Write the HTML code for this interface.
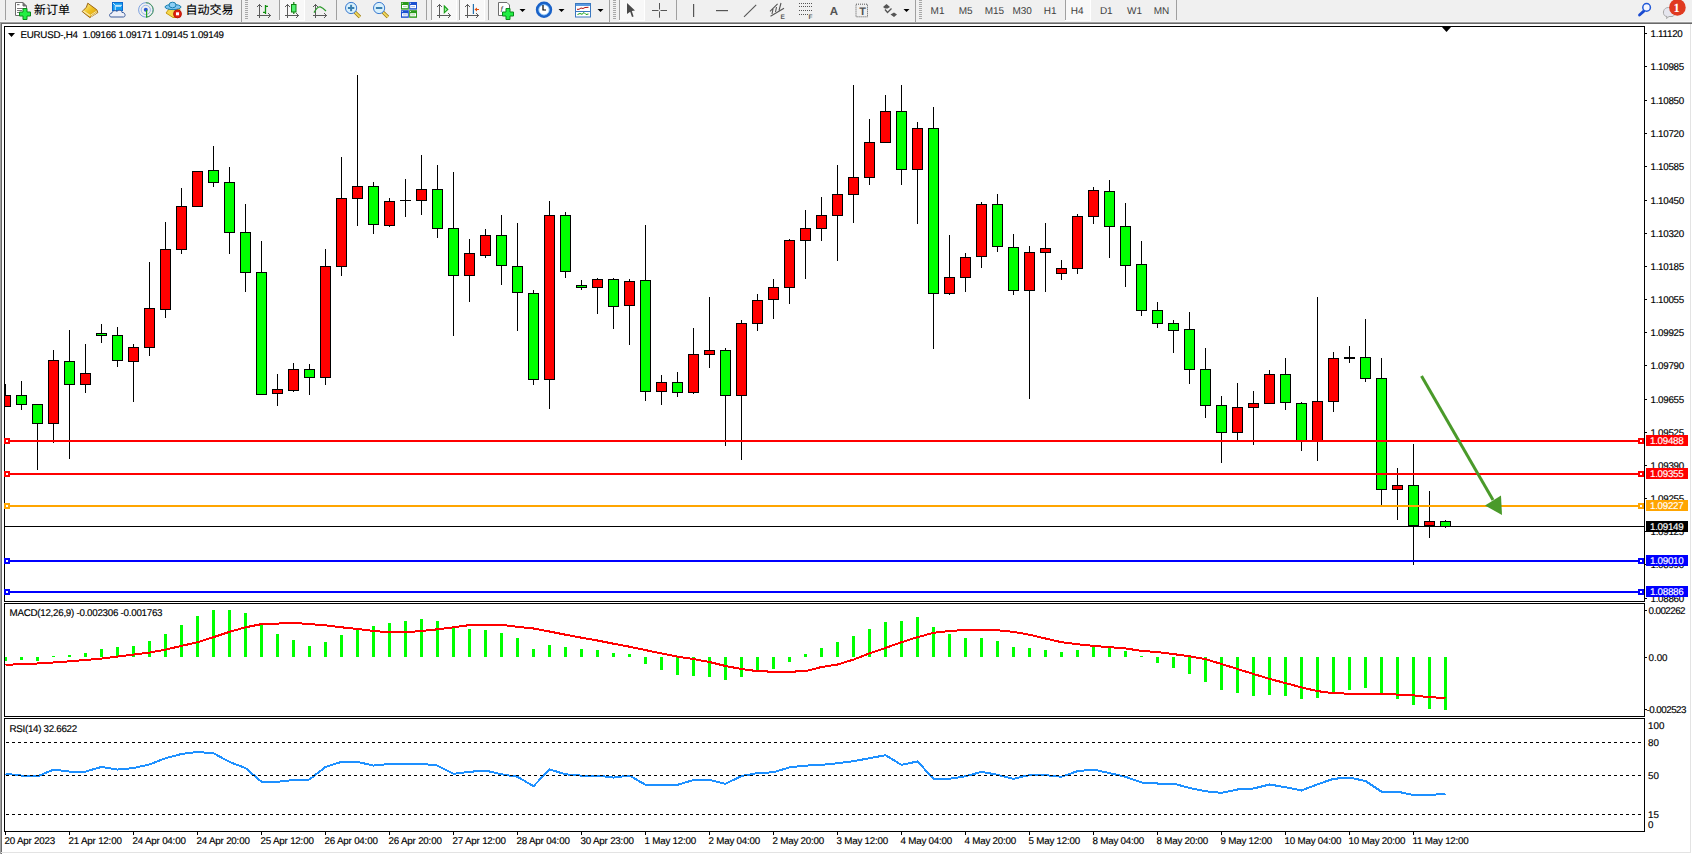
<!DOCTYPE html>
<html><head><meta charset="utf-8"><title>EURUSD,H4</title>
<style>html,body{margin:0;padding:0;background:#fff;overflow:hidden}svg{display:block;text-rendering:geometricPrecision}</style></head>
<body><svg width="1692" height="854" viewBox="0 0 1692 854">
<rect x="0" y="0" width="1692" height="22" fill="#f0f0f0"/>
<rect x="0" y="21" width="1692" height="1" fill="#f6f6f6"/>
<rect x="0" y="22" width="1692" height="1" fill="#a0a0a0"/>
<rect x="0" y="23" width="1692" height="831" fill="#ffffff"/>
<rect x="1" y="23" width="1691" height="1" fill="#696969"/>
<rect x="0" y="23" width="1" height="831" fill="#a0a0a0"/>
<rect x="1" y="23" width="1" height="831" fill="#696969"/>
<rect x="1690" y="24" width="1" height="829" fill="#e3e3e3"/>
<rect x="1" y="852" width="1690" height="1" fill="#e3e3e3"/>
<defs><clipPath id="cm"><rect x="5" y="27" width="1639" height="574"/></clipPath><clipPath id="cd"><rect x="5" y="604" width="1639" height="112"/></clipPath><clipPath id="cr"><rect x="5" y="719" width="1639" height="112"/></clipPath></defs>
<g shape-rendering="crispEdges" clip-path="url(#cm)">
<rect x="5" y="384" width="1" height="23" fill="#000"/>
<rect x="0" y="395" width="11" height="12" fill="#000"/>
<rect x="1" y="396" width="9" height="10" fill="#ff0000"/>
<rect x="21" y="381" width="1" height="29" fill="#000"/>
<rect x="16" y="395" width="11" height="10" fill="#000"/>
<rect x="17" y="396" width="9" height="8" fill="#00ff00"/>
<rect x="37" y="404" width="1" height="66" fill="#000"/>
<rect x="32" y="404" width="11" height="20" fill="#000"/>
<rect x="33" y="405" width="9" height="18" fill="#00ff00"/>
<rect x="53" y="350" width="1" height="93" fill="#000"/>
<rect x="48" y="360" width="11" height="64" fill="#000"/>
<rect x="49" y="361" width="9" height="62" fill="#ff0000"/>
<rect x="69" y="330" width="1" height="129" fill="#000"/>
<rect x="64" y="361" width="11" height="24" fill="#000"/>
<rect x="65" y="362" width="9" height="22" fill="#00ff00"/>
<rect x="85" y="344" width="1" height="49" fill="#000"/>
<rect x="80" y="373" width="11" height="12" fill="#000"/>
<rect x="81" y="374" width="9" height="10" fill="#ff0000"/>
<rect x="101" y="324" width="1" height="19" fill="#000"/>
<rect x="96" y="333" width="11" height="3" fill="#000"/>
<rect x="97" y="334" width="9" height="1" fill="#00ff00"/>
<rect x="117" y="327" width="1" height="40" fill="#000"/>
<rect x="112" y="335" width="11" height="26" fill="#000"/>
<rect x="113" y="336" width="9" height="24" fill="#00ff00"/>
<rect x="133" y="344" width="1" height="58" fill="#000"/>
<rect x="128" y="347" width="11" height="15" fill="#000"/>
<rect x="129" y="348" width="9" height="13" fill="#ff0000"/>
<rect x="149" y="262" width="1" height="94" fill="#000"/>
<rect x="144" y="308" width="11" height="40" fill="#000"/>
<rect x="145" y="309" width="9" height="38" fill="#ff0000"/>
<rect x="165" y="222" width="1" height="96" fill="#000"/>
<rect x="160" y="249" width="11" height="61" fill="#000"/>
<rect x="161" y="250" width="9" height="59" fill="#ff0000"/>
<rect x="181" y="188" width="1" height="66" fill="#000"/>
<rect x="176" y="206" width="11" height="44" fill="#000"/>
<rect x="177" y="207" width="9" height="42" fill="#ff0000"/>
<rect x="197" y="171" width="1" height="36" fill="#000"/>
<rect x="192" y="171" width="11" height="36" fill="#000"/>
<rect x="193" y="172" width="9" height="34" fill="#ff0000"/>
<rect x="213" y="146" width="1" height="41" fill="#000"/>
<rect x="208" y="170" width="11" height="13" fill="#000"/>
<rect x="209" y="171" width="9" height="11" fill="#00ff00"/>
<rect x="229" y="167" width="1" height="87" fill="#000"/>
<rect x="224" y="182" width="11" height="51" fill="#000"/>
<rect x="225" y="183" width="9" height="49" fill="#00ff00"/>
<rect x="245" y="204" width="1" height="88" fill="#000"/>
<rect x="240" y="232" width="11" height="41" fill="#000"/>
<rect x="241" y="233" width="9" height="39" fill="#00ff00"/>
<rect x="261" y="241" width="1" height="154" fill="#000"/>
<rect x="256" y="272" width="11" height="123" fill="#000"/>
<rect x="257" y="273" width="9" height="121" fill="#00ff00"/>
<rect x="277" y="374" width="1" height="32" fill="#000"/>
<rect x="272" y="389" width="11" height="5" fill="#000"/>
<rect x="273" y="390" width="9" height="3" fill="#ff0000"/>
<rect x="293" y="363" width="1" height="29" fill="#000"/>
<rect x="288" y="369" width="11" height="22" fill="#000"/>
<rect x="289" y="370" width="9" height="20" fill="#ff0000"/>
<rect x="309" y="364" width="1" height="31" fill="#000"/>
<rect x="304" y="369" width="11" height="9" fill="#000"/>
<rect x="305" y="370" width="9" height="7" fill="#00ff00"/>
<rect x="325" y="249" width="1" height="136" fill="#000"/>
<rect x="320" y="266" width="11" height="112" fill="#000"/>
<rect x="321" y="267" width="9" height="110" fill="#ff0000"/>
<rect x="341" y="157" width="1" height="119" fill="#000"/>
<rect x="336" y="198" width="11" height="69" fill="#000"/>
<rect x="337" y="199" width="9" height="67" fill="#ff0000"/>
<rect x="357" y="75" width="1" height="151" fill="#000"/>
<rect x="352" y="186" width="11" height="13" fill="#000"/>
<rect x="353" y="187" width="9" height="11" fill="#ff0000"/>
<rect x="373" y="182" width="1" height="52" fill="#000"/>
<rect x="368" y="186" width="11" height="39" fill="#000"/>
<rect x="369" y="187" width="9" height="37" fill="#00ff00"/>
<rect x="389" y="198" width="1" height="29" fill="#000"/>
<rect x="384" y="201" width="11" height="25" fill="#000"/>
<rect x="385" y="202" width="9" height="23" fill="#ff0000"/>
<rect x="405" y="179" width="1" height="38" fill="#000"/>
<rect x="400" y="200" width="11" height="1" fill="#000"/>
<rect x="421" y="155" width="1" height="60" fill="#000"/>
<rect x="416" y="189" width="11" height="12" fill="#000"/>
<rect x="417" y="190" width="9" height="10" fill="#ff0000"/>
<rect x="437" y="165" width="1" height="73" fill="#000"/>
<rect x="432" y="189" width="11" height="40" fill="#000"/>
<rect x="433" y="190" width="9" height="38" fill="#00ff00"/>
<rect x="453" y="172" width="1" height="164" fill="#000"/>
<rect x="448" y="228" width="11" height="48" fill="#000"/>
<rect x="449" y="229" width="9" height="46" fill="#00ff00"/>
<rect x="469" y="239" width="1" height="63" fill="#000"/>
<rect x="464" y="253" width="11" height="23" fill="#000"/>
<rect x="465" y="254" width="9" height="21" fill="#ff0000"/>
<rect x="485" y="229" width="1" height="29" fill="#000"/>
<rect x="480" y="235" width="11" height="21" fill="#000"/>
<rect x="481" y="236" width="9" height="19" fill="#ff0000"/>
<rect x="501" y="215" width="1" height="70" fill="#000"/>
<rect x="496" y="235" width="11" height="31" fill="#000"/>
<rect x="497" y="236" width="9" height="29" fill="#00ff00"/>
<rect x="517" y="223" width="1" height="108" fill="#000"/>
<rect x="512" y="266" width="11" height="27" fill="#000"/>
<rect x="513" y="267" width="9" height="25" fill="#00ff00"/>
<rect x="533" y="290" width="1" height="95" fill="#000"/>
<rect x="528" y="293" width="11" height="87" fill="#000"/>
<rect x="529" y="294" width="9" height="85" fill="#00ff00"/>
<rect x="549" y="201" width="1" height="208" fill="#000"/>
<rect x="544" y="215" width="11" height="165" fill="#000"/>
<rect x="545" y="216" width="9" height="163" fill="#ff0000"/>
<rect x="565" y="212" width="1" height="66" fill="#000"/>
<rect x="560" y="215" width="11" height="57" fill="#000"/>
<rect x="561" y="216" width="9" height="55" fill="#00ff00"/>
<rect x="581" y="280" width="1" height="10" fill="#000"/>
<rect x="576" y="285" width="11" height="3" fill="#000"/>
<rect x="577" y="286" width="9" height="1" fill="#00ff00"/>
<rect x="597" y="278" width="1" height="36" fill="#000"/>
<rect x="592" y="279" width="11" height="9" fill="#000"/>
<rect x="593" y="280" width="9" height="7" fill="#ff0000"/>
<rect x="613" y="278" width="1" height="51" fill="#000"/>
<rect x="608" y="279" width="11" height="28" fill="#000"/>
<rect x="609" y="280" width="9" height="26" fill="#00ff00"/>
<rect x="629" y="279" width="1" height="66" fill="#000"/>
<rect x="624" y="281" width="11" height="25" fill="#000"/>
<rect x="625" y="282" width="9" height="23" fill="#ff0000"/>
<rect x="645" y="225" width="1" height="176" fill="#000"/>
<rect x="640" y="280" width="11" height="112" fill="#000"/>
<rect x="641" y="281" width="9" height="110" fill="#00ff00"/>
<rect x="661" y="375" width="1" height="30" fill="#000"/>
<rect x="656" y="382" width="11" height="10" fill="#000"/>
<rect x="657" y="383" width="9" height="8" fill="#ff0000"/>
<rect x="677" y="372" width="1" height="25" fill="#000"/>
<rect x="672" y="382" width="11" height="11" fill="#000"/>
<rect x="673" y="383" width="9" height="9" fill="#00ff00"/>
<rect x="693" y="328" width="1" height="66" fill="#000"/>
<rect x="688" y="354" width="11" height="39" fill="#000"/>
<rect x="689" y="355" width="9" height="37" fill="#ff0000"/>
<rect x="709" y="297" width="1" height="71" fill="#000"/>
<rect x="704" y="350" width="11" height="5" fill="#000"/>
<rect x="705" y="351" width="9" height="3" fill="#ff0000"/>
<rect x="725" y="348" width="1" height="98" fill="#000"/>
<rect x="720" y="350" width="11" height="46" fill="#000"/>
<rect x="721" y="351" width="9" height="44" fill="#00ff00"/>
<rect x="741" y="320" width="1" height="140" fill="#000"/>
<rect x="736" y="323" width="11" height="73" fill="#000"/>
<rect x="737" y="324" width="9" height="71" fill="#ff0000"/>
<rect x="757" y="294" width="1" height="37" fill="#000"/>
<rect x="752" y="300" width="11" height="24" fill="#000"/>
<rect x="753" y="301" width="9" height="22" fill="#ff0000"/>
<rect x="773" y="279" width="1" height="40" fill="#000"/>
<rect x="768" y="287" width="11" height="13" fill="#000"/>
<rect x="769" y="288" width="9" height="11" fill="#ff0000"/>
<rect x="789" y="239" width="1" height="65" fill="#000"/>
<rect x="784" y="240" width="11" height="48" fill="#000"/>
<rect x="785" y="241" width="9" height="46" fill="#ff0000"/>
<rect x="805" y="210" width="1" height="69" fill="#000"/>
<rect x="800" y="228" width="11" height="13" fill="#000"/>
<rect x="801" y="229" width="9" height="11" fill="#ff0000"/>
<rect x="821" y="197" width="1" height="44" fill="#000"/>
<rect x="816" y="215" width="11" height="14" fill="#000"/>
<rect x="817" y="216" width="9" height="12" fill="#ff0000"/>
<rect x="837" y="165" width="1" height="96" fill="#000"/>
<rect x="832" y="194" width="11" height="22" fill="#000"/>
<rect x="833" y="195" width="9" height="20" fill="#ff0000"/>
<rect x="853" y="85" width="1" height="138" fill="#000"/>
<rect x="848" y="177" width="11" height="18" fill="#000"/>
<rect x="849" y="178" width="9" height="16" fill="#ff0000"/>
<rect x="869" y="119" width="1" height="66" fill="#000"/>
<rect x="864" y="142" width="11" height="36" fill="#000"/>
<rect x="865" y="143" width="9" height="34" fill="#ff0000"/>
<rect x="885" y="95" width="1" height="48" fill="#000"/>
<rect x="880" y="111" width="11" height="32" fill="#000"/>
<rect x="881" y="112" width="9" height="30" fill="#ff0000"/>
<rect x="901" y="85" width="1" height="100" fill="#000"/>
<rect x="896" y="111" width="11" height="59" fill="#000"/>
<rect x="897" y="112" width="9" height="57" fill="#00ff00"/>
<rect x="917" y="122" width="1" height="102" fill="#000"/>
<rect x="912" y="128" width="11" height="42" fill="#000"/>
<rect x="913" y="129" width="9" height="40" fill="#ff0000"/>
<rect x="933" y="107" width="1" height="242" fill="#000"/>
<rect x="928" y="128" width="11" height="166" fill="#000"/>
<rect x="929" y="129" width="9" height="164" fill="#00ff00"/>
<rect x="949" y="235" width="1" height="60" fill="#000"/>
<rect x="944" y="277" width="11" height="17" fill="#000"/>
<rect x="945" y="278" width="9" height="15" fill="#ff0000"/>
<rect x="965" y="253" width="1" height="39" fill="#000"/>
<rect x="960" y="257" width="11" height="21" fill="#000"/>
<rect x="961" y="258" width="9" height="19" fill="#ff0000"/>
<rect x="981" y="202" width="1" height="66" fill="#000"/>
<rect x="976" y="204" width="11" height="53" fill="#000"/>
<rect x="977" y="205" width="9" height="51" fill="#ff0000"/>
<rect x="997" y="194" width="1" height="58" fill="#000"/>
<rect x="992" y="204" width="11" height="43" fill="#000"/>
<rect x="993" y="205" width="9" height="41" fill="#00ff00"/>
<rect x="1013" y="234" width="1" height="61" fill="#000"/>
<rect x="1008" y="247" width="11" height="44" fill="#000"/>
<rect x="1009" y="248" width="9" height="42" fill="#00ff00"/>
<rect x="1029" y="246" width="1" height="153" fill="#000"/>
<rect x="1024" y="252" width="11" height="39" fill="#000"/>
<rect x="1025" y="253" width="9" height="37" fill="#ff0000"/>
<rect x="1045" y="223" width="1" height="69" fill="#000"/>
<rect x="1040" y="248" width="11" height="5" fill="#000"/>
<rect x="1041" y="249" width="9" height="3" fill="#ff0000"/>
<rect x="1061" y="260" width="1" height="20" fill="#000"/>
<rect x="1056" y="268" width="11" height="6" fill="#000"/>
<rect x="1057" y="269" width="9" height="4" fill="#ff0000"/>
<rect x="1077" y="214" width="1" height="60" fill="#000"/>
<rect x="1072" y="216" width="11" height="53" fill="#000"/>
<rect x="1073" y="217" width="9" height="51" fill="#ff0000"/>
<rect x="1093" y="187" width="1" height="37" fill="#000"/>
<rect x="1088" y="190" width="11" height="27" fill="#000"/>
<rect x="1089" y="191" width="9" height="25" fill="#ff0000"/>
<rect x="1109" y="180" width="1" height="78" fill="#000"/>
<rect x="1104" y="191" width="11" height="36" fill="#000"/>
<rect x="1105" y="192" width="9" height="34" fill="#00ff00"/>
<rect x="1125" y="203" width="1" height="84" fill="#000"/>
<rect x="1120" y="226" width="11" height="40" fill="#000"/>
<rect x="1121" y="227" width="9" height="38" fill="#00ff00"/>
<rect x="1141" y="241" width="1" height="75" fill="#000"/>
<rect x="1136" y="264" width="11" height="47" fill="#000"/>
<rect x="1137" y="265" width="9" height="45" fill="#00ff00"/>
<rect x="1157" y="302" width="1" height="26" fill="#000"/>
<rect x="1152" y="310" width="11" height="14" fill="#000"/>
<rect x="1153" y="311" width="9" height="12" fill="#00ff00"/>
<rect x="1173" y="320" width="1" height="33" fill="#000"/>
<rect x="1168" y="323" width="11" height="8" fill="#000"/>
<rect x="1169" y="324" width="9" height="6" fill="#00ff00"/>
<rect x="1189" y="312" width="1" height="72" fill="#000"/>
<rect x="1184" y="329" width="11" height="41" fill="#000"/>
<rect x="1185" y="330" width="9" height="39" fill="#00ff00"/>
<rect x="1205" y="348" width="1" height="70" fill="#000"/>
<rect x="1200" y="369" width="11" height="37" fill="#000"/>
<rect x="1201" y="370" width="9" height="35" fill="#00ff00"/>
<rect x="1221" y="396" width="1" height="67" fill="#000"/>
<rect x="1216" y="405" width="11" height="28" fill="#000"/>
<rect x="1217" y="406" width="9" height="26" fill="#00ff00"/>
<rect x="1237" y="383" width="1" height="58" fill="#000"/>
<rect x="1232" y="407" width="11" height="26" fill="#000"/>
<rect x="1233" y="408" width="9" height="24" fill="#ff0000"/>
<rect x="1253" y="391" width="1" height="54" fill="#000"/>
<rect x="1248" y="403" width="11" height="5" fill="#000"/>
<rect x="1249" y="404" width="9" height="3" fill="#ff0000"/>
<rect x="1269" y="370" width="1" height="34" fill="#000"/>
<rect x="1264" y="374" width="11" height="30" fill="#000"/>
<rect x="1265" y="375" width="9" height="28" fill="#ff0000"/>
<rect x="1285" y="358" width="1" height="52" fill="#000"/>
<rect x="1280" y="374" width="11" height="29" fill="#000"/>
<rect x="1281" y="375" width="9" height="27" fill="#00ff00"/>
<rect x="1301" y="402" width="1" height="49" fill="#000"/>
<rect x="1296" y="403" width="11" height="39" fill="#000"/>
<rect x="1297" y="404" width="9" height="37" fill="#00ff00"/>
<rect x="1317" y="297" width="1" height="164" fill="#000"/>
<rect x="1312" y="401" width="11" height="41" fill="#000"/>
<rect x="1313" y="402" width="9" height="39" fill="#ff0000"/>
<rect x="1333" y="352" width="1" height="60" fill="#000"/>
<rect x="1328" y="358" width="11" height="44" fill="#000"/>
<rect x="1329" y="359" width="9" height="42" fill="#ff0000"/>
<rect x="1349" y="346" width="1" height="17" fill="#000"/>
<rect x="1344" y="357" width="11" height="2" fill="#000"/>
<rect x="1365" y="319" width="1" height="63" fill="#000"/>
<rect x="1360" y="357" width="11" height="22" fill="#000"/>
<rect x="1361" y="358" width="9" height="20" fill="#00ff00"/>
<rect x="1381" y="358" width="1" height="148" fill="#000"/>
<rect x="1376" y="378" width="11" height="112" fill="#000"/>
<rect x="1377" y="379" width="9" height="110" fill="#00ff00"/>
<rect x="1397" y="468" width="1" height="52" fill="#000"/>
<rect x="1392" y="485" width="11" height="5" fill="#000"/>
<rect x="1393" y="486" width="9" height="3" fill="#ff0000"/>
<rect x="1413" y="444" width="1" height="121" fill="#000"/>
<rect x="1408" y="485" width="11" height="41" fill="#000"/>
<rect x="1409" y="486" width="9" height="39" fill="#00ff00"/>
<rect x="1429" y="491" width="1" height="47" fill="#000"/>
<rect x="1424" y="521" width="11" height="5" fill="#000"/>
<rect x="1425" y="522" width="9" height="3" fill="#ff0000"/>
<rect x="1445" y="520" width="1" height="8" fill="#000"/>
<rect x="1440" y="521" width="11" height="6" fill="#000"/>
<rect x="1441" y="522" width="9" height="4" fill="#00ff00"/>
<rect x="5" y="440" width="1639" height="2" fill="#ff0000"/>
<rect x="5" y="473" width="1639" height="2" fill="#ff0000"/>
<rect x="5" y="505" width="1639" height="2" fill="#ffa500"/>
<rect x="5" y="526" width="1639" height="1" fill="#000"/>
<rect x="5" y="560" width="1639" height="2" fill="#0000ff"/>
<rect x="5" y="591" width="1639" height="2" fill="#0000ff"/>
</g>
<path d="M1441.5 26.5 L1451.5 26.5 L1446.5 32 Z" fill="#000"/>
<g clip-path="url(#cm)"><line x1="1421.5" y1="376" x2="1493" y2="500" stroke="#4a9a2a" stroke-width="3"/><path d="M1485 505.5 L1501 495.5 L1502 515 Z" fill="#4a9a2a"/></g>
<rect x="4.5" y="26.5" width="1640" height="575" fill="none" stroke="#000" stroke-width="1" shape-rendering="crispEdges"/>
<rect x="4.5" y="603.5" width="1640" height="113" fill="none" stroke="#000" stroke-width="1" shape-rendering="crispEdges"/>
<rect x="4.5" y="718.5" width="1640" height="113" fill="none" stroke="#000" stroke-width="1" shape-rendering="crispEdges"/>
<g shape-rendering="crispEdges"><rect x="4" y="438" width="6" height="6" fill="#ff0000"/><rect x="6" y="440" width="2" height="2" fill="#fff"/><rect x="1638" y="438" width="6" height="6" fill="#ff0000"/><rect x="1640" y="440" width="2" height="2" fill="#fff"/><rect x="4" y="471" width="6" height="6" fill="#ff0000"/><rect x="6" y="473" width="2" height="2" fill="#fff"/><rect x="1638" y="471" width="6" height="6" fill="#ff0000"/><rect x="1640" y="473" width="2" height="2" fill="#fff"/><rect x="4" y="503" width="6" height="6" fill="#ffa500"/><rect x="6" y="505" width="2" height="2" fill="#fff"/><rect x="1638" y="503" width="6" height="6" fill="#ffa500"/><rect x="1640" y="505" width="2" height="2" fill="#fff"/><rect x="4" y="558" width="6" height="6" fill="#0000ff"/><rect x="6" y="560" width="2" height="2" fill="#fff"/><rect x="1638" y="558" width="6" height="6" fill="#0000ff"/><rect x="1640" y="560" width="2" height="2" fill="#fff"/><rect x="4" y="589" width="6" height="6" fill="#0000ff"/><rect x="6" y="591" width="2" height="2" fill="#fff"/><rect x="1638" y="589" width="6" height="6" fill="#0000ff"/><rect x="1640" y="591" width="2" height="2" fill="#fff"/></g>
<g shape-rendering="crispEdges">
<rect x="1645" y="33" width="2" height="1" fill="#000"/>
<rect x="1645" y="66" width="2" height="1" fill="#000"/>
<rect x="1645" y="100" width="2" height="1" fill="#000"/>
<rect x="1645" y="133" width="2" height="1" fill="#000"/>
<rect x="1645" y="166" width="2" height="1" fill="#000"/>
<rect x="1645" y="200" width="2" height="1" fill="#000"/>
<rect x="1645" y="233" width="2" height="1" fill="#000"/>
<rect x="1645" y="266" width="2" height="1" fill="#000"/>
<rect x="1645" y="299" width="2" height="1" fill="#000"/>
<rect x="1645" y="332" width="2" height="1" fill="#000"/>
<rect x="1645" y="365" width="2" height="1" fill="#000"/>
<rect x="1645" y="399" width="2" height="1" fill="#000"/>
<rect x="1645" y="432" width="2" height="1" fill="#000"/>
<rect x="1645" y="465" width="2" height="1" fill="#000"/>
<rect x="1645" y="498" width="2" height="1" fill="#000"/>
<rect x="1645" y="531" width="2" height="1" fill="#000"/>
<rect x="1645" y="564" width="2" height="1" fill="#000"/>
<rect x="1645" y="598" width="2" height="1" fill="#000"/>
</g>
<text x="1650.5" y="37" font-size="9.8" fill="#000" stroke="#000" stroke-width="0.15" textLength="32.29" lengthAdjust="spacing" font-family="'Liberation Sans', Arial, sans-serif">1.11120</text>
<text x="1650.5" y="70" font-size="9.8" fill="#000" stroke="#000" stroke-width="0.15" textLength="33.67" lengthAdjust="spacing" font-family="'Liberation Sans', Arial, sans-serif">1.10985</text>
<text x="1650.5" y="104" font-size="9.8" fill="#000" stroke="#000" stroke-width="0.15" textLength="33.67" lengthAdjust="spacing" font-family="'Liberation Sans', Arial, sans-serif">1.10850</text>
<text x="1650.5" y="137" font-size="9.8" fill="#000" stroke="#000" stroke-width="0.15" textLength="33.67" lengthAdjust="spacing" font-family="'Liberation Sans', Arial, sans-serif">1.10720</text>
<text x="1650.5" y="170" font-size="9.8" fill="#000" stroke="#000" stroke-width="0.15" textLength="33.67" lengthAdjust="spacing" font-family="'Liberation Sans', Arial, sans-serif">1.10585</text>
<text x="1650.5" y="204" font-size="9.8" fill="#000" stroke="#000" stroke-width="0.15" textLength="33.67" lengthAdjust="spacing" font-family="'Liberation Sans', Arial, sans-serif">1.10450</text>
<text x="1650.5" y="237" font-size="9.8" fill="#000" stroke="#000" stroke-width="0.15" textLength="33.67" lengthAdjust="spacing" font-family="'Liberation Sans', Arial, sans-serif">1.10320</text>
<text x="1650.5" y="270" font-size="9.8" fill="#000" stroke="#000" stroke-width="0.15" textLength="33.67" lengthAdjust="spacing" font-family="'Liberation Sans', Arial, sans-serif">1.10185</text>
<text x="1650.5" y="303" font-size="9.8" fill="#000" stroke="#000" stroke-width="0.15" textLength="33.67" lengthAdjust="spacing" font-family="'Liberation Sans', Arial, sans-serif">1.10055</text>
<text x="1650.5" y="336" font-size="9.8" fill="#000" stroke="#000" stroke-width="0.15" textLength="33.67" lengthAdjust="spacing" font-family="'Liberation Sans', Arial, sans-serif">1.09925</text>
<text x="1650.5" y="369" font-size="9.8" fill="#000" stroke="#000" stroke-width="0.15" textLength="33.67" lengthAdjust="spacing" font-family="'Liberation Sans', Arial, sans-serif">1.09790</text>
<text x="1650.5" y="403" font-size="9.8" fill="#000" stroke="#000" stroke-width="0.15" textLength="33.67" lengthAdjust="spacing" font-family="'Liberation Sans', Arial, sans-serif">1.09655</text>
<text x="1650.5" y="436" font-size="9.8" fill="#000" stroke="#000" stroke-width="0.15" textLength="33.67" lengthAdjust="spacing" font-family="'Liberation Sans', Arial, sans-serif">1.09525</text>
<text x="1650.5" y="469" font-size="9.8" fill="#000" stroke="#000" stroke-width="0.15" textLength="33.67" lengthAdjust="spacing" font-family="'Liberation Sans', Arial, sans-serif">1.09390</text>
<text x="1650.5" y="502" font-size="9.8" fill="#000" stroke="#000" stroke-width="0.15" textLength="33.67" lengthAdjust="spacing" font-family="'Liberation Sans', Arial, sans-serif">1.09255</text>
<text x="1650.5" y="535" font-size="9.8" fill="#000" stroke="#000" stroke-width="0.15" textLength="33.67" lengthAdjust="spacing" font-family="'Liberation Sans', Arial, sans-serif">1.09125</text>
<text x="1650.5" y="568" font-size="9.8" fill="#000" stroke="#000" stroke-width="0.15" textLength="33.67" lengthAdjust="spacing" font-family="'Liberation Sans', Arial, sans-serif">1.08990</text>
<text x="1650.5" y="602" font-size="9.8" fill="#000" stroke="#000" stroke-width="0.15" textLength="33.67" lengthAdjust="spacing" font-family="'Liberation Sans', Arial, sans-serif">1.08860</text>
<rect x="1646" y="435" width="42" height="11" fill="#ff0000" shape-rendering="crispEdges"/>
<text x="1650" y="444" font-size="9.8" fill="#fff" stroke="#fff" stroke-width="0.15" textLength="33.67" lengthAdjust="spacing" font-family="'Liberation Sans', Arial, sans-serif">1.09488</text>
<rect x="1646" y="468" width="42" height="11" fill="#ff0000" shape-rendering="crispEdges"/>
<text x="1650" y="477" font-size="9.8" fill="#fff" stroke="#fff" stroke-width="0.15" textLength="33.67" lengthAdjust="spacing" font-family="'Liberation Sans', Arial, sans-serif">1.09355</text>
<rect x="1646" y="500" width="42" height="11" fill="#ffa500" shape-rendering="crispEdges"/>
<text x="1650" y="509" font-size="9.8" fill="#fff" stroke="#fff" stroke-width="0.15" textLength="33.67" lengthAdjust="spacing" font-family="'Liberation Sans', Arial, sans-serif">1.09227</text>
<rect x="1646" y="521" width="42" height="11" fill="#000" shape-rendering="crispEdges"/>
<text x="1650" y="530" font-size="9.8" fill="#fff" stroke="#fff" stroke-width="0.15" textLength="33.67" lengthAdjust="spacing" font-family="'Liberation Sans', Arial, sans-serif">1.09149</text>
<rect x="1646" y="555" width="42" height="11" fill="#0000ff" shape-rendering="crispEdges"/>
<text x="1650" y="564" font-size="9.8" fill="#fff" stroke="#fff" stroke-width="0.15" textLength="33.67" lengthAdjust="spacing" font-family="'Liberation Sans', Arial, sans-serif">1.09010</text>
<rect x="1646" y="586" width="42" height="11" fill="#0000ff" shape-rendering="crispEdges"/>
<text x="1650" y="595" font-size="9.8" fill="#fff" stroke="#fff" stroke-width="0.15" textLength="33.67" lengthAdjust="spacing" font-family="'Liberation Sans', Arial, sans-serif">1.08886</text>
<path d="M8 33 L15 33 L11.5 37 Z" fill="#000"/>
<text x="20.5" y="37.6" font-size="9.8" fill="#000" stroke="#000" stroke-width="0.15" textLength="203.57" lengthAdjust="spacing" font-family="'Liberation Sans', Arial, sans-serif">EURUSD-,H4&#160;&#160;1.09166 1.09171 1.09145 1.09149</text>
<g shape-rendering="crispEdges" clip-path="url(#cd)">
<rect x="4" y="657" width="3" height="4" fill="#00ff00"/>
<rect x="20" y="657" width="3" height="3" fill="#00ff00"/>
<rect x="36" y="657" width="3" height="4" fill="#00ff00"/>
<rect x="52" y="656" width="3" height="1" fill="#00ff00"/>
<rect x="68" y="655" width="3" height="2" fill="#00ff00"/>
<rect x="84" y="653" width="3" height="4" fill="#00ff00"/>
<rect x="100" y="649" width="3" height="8" fill="#00ff00"/>
<rect x="116" y="647" width="3" height="10" fill="#00ff00"/>
<rect x="132" y="646" width="3" height="11" fill="#00ff00"/>
<rect x="148" y="641" width="3" height="16" fill="#00ff00"/>
<rect x="164" y="634" width="3" height="23" fill="#00ff00"/>
<rect x="180" y="625" width="3" height="32" fill="#00ff00"/>
<rect x="196" y="616" width="3" height="41" fill="#00ff00"/>
<rect x="212" y="610" width="3" height="47" fill="#00ff00"/>
<rect x="228" y="610" width="3" height="47" fill="#00ff00"/>
<rect x="244" y="613" width="3" height="44" fill="#00ff00"/>
<rect x="260" y="625" width="3" height="32" fill="#00ff00"/>
<rect x="276" y="634" width="3" height="23" fill="#00ff00"/>
<rect x="292" y="640" width="3" height="17" fill="#00ff00"/>
<rect x="308" y="646" width="3" height="11" fill="#00ff00"/>
<rect x="324" y="642" width="3" height="15" fill="#00ff00"/>
<rect x="340" y="635" width="3" height="22" fill="#00ff00"/>
<rect x="356" y="628" width="3" height="29" fill="#00ff00"/>
<rect x="372" y="626" width="3" height="31" fill="#00ff00"/>
<rect x="388" y="623" width="3" height="34" fill="#00ff00"/>
<rect x="404" y="621" width="3" height="36" fill="#00ff00"/>
<rect x="420" y="619" width="3" height="38" fill="#00ff00"/>
<rect x="436" y="621" width="3" height="36" fill="#00ff00"/>
<rect x="452" y="626" width="3" height="31" fill="#00ff00"/>
<rect x="468" y="629" width="3" height="28" fill="#00ff00"/>
<rect x="484" y="630" width="3" height="27" fill="#00ff00"/>
<rect x="500" y="633" width="3" height="24" fill="#00ff00"/>
<rect x="516" y="638" width="3" height="19" fill="#00ff00"/>
<rect x="532" y="649" width="3" height="8" fill="#00ff00"/>
<rect x="548" y="645" width="3" height="12" fill="#00ff00"/>
<rect x="564" y="647" width="3" height="10" fill="#00ff00"/>
<rect x="580" y="649" width="3" height="8" fill="#00ff00"/>
<rect x="596" y="650" width="3" height="7" fill="#00ff00"/>
<rect x="612" y="653" width="3" height="4" fill="#00ff00"/>
<rect x="628" y="654" width="3" height="3" fill="#00ff00"/>
<rect x="644" y="657" width="3" height="7" fill="#00ff00"/>
<rect x="660" y="657" width="3" height="13" fill="#00ff00"/>
<rect x="676" y="657" width="3" height="18" fill="#00ff00"/>
<rect x="692" y="657" width="3" height="19" fill="#00ff00"/>
<rect x="708" y="657" width="3" height="20" fill="#00ff00"/>
<rect x="724" y="657" width="3" height="23" fill="#00ff00"/>
<rect x="740" y="657" width="3" height="20" fill="#00ff00"/>
<rect x="756" y="657" width="3" height="15" fill="#00ff00"/>
<rect x="772" y="657" width="3" height="12" fill="#00ff00"/>
<rect x="788" y="657" width="3" height="5" fill="#00ff00"/>
<rect x="804" y="654" width="3" height="3" fill="#00ff00"/>
<rect x="820" y="648" width="3" height="9" fill="#00ff00"/>
<rect x="836" y="642" width="3" height="15" fill="#00ff00"/>
<rect x="852" y="636" width="3" height="21" fill="#00ff00"/>
<rect x="868" y="629" width="3" height="28" fill="#00ff00"/>
<rect x="884" y="622" width="3" height="35" fill="#00ff00"/>
<rect x="900" y="621" width="3" height="36" fill="#00ff00"/>
<rect x="916" y="617" width="3" height="40" fill="#00ff00"/>
<rect x="932" y="627" width="3" height="30" fill="#00ff00"/>
<rect x="948" y="634" width="3" height="23" fill="#00ff00"/>
<rect x="964" y="638" width="3" height="19" fill="#00ff00"/>
<rect x="980" y="638" width="3" height="19" fill="#00ff00"/>
<rect x="996" y="641" width="3" height="16" fill="#00ff00"/>
<rect x="1012" y="647" width="3" height="10" fill="#00ff00"/>
<rect x="1028" y="648" width="3" height="9" fill="#00ff00"/>
<rect x="1044" y="650" width="3" height="7" fill="#00ff00"/>
<rect x="1060" y="652" width="3" height="5" fill="#00ff00"/>
<rect x="1076" y="650" width="3" height="7" fill="#00ff00"/>
<rect x="1092" y="646" width="3" height="11" fill="#00ff00"/>
<rect x="1108" y="647" width="3" height="10" fill="#00ff00"/>
<rect x="1124" y="651" width="3" height="6" fill="#00ff00"/>
<rect x="1140" y="656" width="3" height="1" fill="#00ff00"/>
<rect x="1156" y="657" width="3" height="6" fill="#00ff00"/>
<rect x="1172" y="657" width="3" height="11" fill="#00ff00"/>
<rect x="1188" y="657" width="3" height="17" fill="#00ff00"/>
<rect x="1204" y="657" width="3" height="25" fill="#00ff00"/>
<rect x="1220" y="657" width="3" height="33" fill="#00ff00"/>
<rect x="1236" y="657" width="3" height="36" fill="#00ff00"/>
<rect x="1252" y="657" width="3" height="39" fill="#00ff00"/>
<rect x="1268" y="657" width="3" height="38" fill="#00ff00"/>
<rect x="1284" y="657" width="3" height="39" fill="#00ff00"/>
<rect x="1300" y="657" width="3" height="42" fill="#00ff00"/>
<rect x="1316" y="657" width="3" height="41" fill="#00ff00"/>
<rect x="1332" y="657" width="3" height="37" fill="#00ff00"/>
<rect x="1348" y="657" width="3" height="33" fill="#00ff00"/>
<rect x="1364" y="657" width="3" height="31" fill="#00ff00"/>
<rect x="1380" y="657" width="3" height="37" fill="#00ff00"/>
<rect x="1396" y="657" width="3" height="42" fill="#00ff00"/>
<rect x="1412" y="657" width="3" height="48" fill="#00ff00"/>
<rect x="1428" y="657" width="3" height="52" fill="#00ff00"/>
<rect x="1444" y="657" width="3" height="53" fill="#00ff00"/>
</g>
<polyline points="5.5,665 21.5,664 37.5,663.5 53.5,662.5 69.5,661.3 85.5,660 101.5,658.6 117.5,656.6 133.5,654.6 149.5,652.6 165.5,649.6 181.5,645.9 197.5,642.2 213.5,637.2 229.5,631.8 245.5,627.3 261.5,624.1 277.5,623.6 293.5,622.8 309.5,624.1 325.5,625.3 341.5,627.3 357.5,629 373.5,631 389.5,632.3 405.5,632.3 421.5,631 437.5,629.3 453.5,627.3 469.5,625.1 485.5,624.8 501.5,624.8 517.5,626.8 533.5,628.5 549.5,631.5 565.5,634.7 581.5,637.7 597.5,640.5 613.5,643.7 629.5,646.7 645.5,650.1 661.5,653.4 677.5,656.6 693.5,659.1 709.5,662 725.5,666 741.5,669 757.5,671.2 773.5,671.7 789.5,671.7 805.5,671.2 821.5,667 837.5,664.5 853.5,659.6 869.5,653.4 885.5,647.9 901.5,642.2 917.5,637.2 933.5,632.8 949.5,631 965.5,630 981.5,629.8 997.5,630.3 1013.5,631.8 1029.5,634.7 1045.5,638.5 1061.5,642.2 1077.5,644.2 1093.5,645.9 1109.5,647.2 1125.5,648.4 1141.5,650.9 1157.5,652.1 1173.5,654.1 1189.5,656.3 1205.5,659.1 1221.5,664 1237.5,669 1253.5,674 1269.5,678.9 1285.5,683.1 1301.5,687.4 1317.5,691.1 1333.5,693.3 1349.5,693.6 1365.5,693.6 1381.5,693.6 1397.5,694.6 1413.5,695.3 1429.5,697.3 1445.5,697.8" fill="none" stroke="#ff0000" stroke-width="2" shape-rendering="crispEdges" clip-path="url(#cd)"/>
<text x="9.5" y="616" font-size="9.8" fill="#000" stroke="#000" stroke-width="0.15" textLength="153.05" lengthAdjust="spacing" font-family="'Liberation Sans', Arial, sans-serif">MACD(12,26,9) -0.002306 -0.001763</text>
<rect x="1645" y="610" width="2" height="1" fill="#000" shape-rendering="crispEdges"/>
<rect x="1645" y="657" width="2" height="1" fill="#000" shape-rendering="crispEdges"/>
<rect x="1645" y="709" width="2" height="1" fill="#000" shape-rendering="crispEdges"/>
<text x="1648.5" y="613.8" font-size="9.8" fill="#000" stroke="#000" stroke-width="0.15" textLength="36.97" lengthAdjust="spacing" font-family="'Liberation Sans', Arial, sans-serif">0.002262</text>
<text x="1648.5" y="661" font-size="9.8" fill="#000" stroke="#000" stroke-width="0.15" font-family="'Liberation Sans', Arial, sans-serif">0.00</text>
<text x="1646.5" y="712.5" font-size="9.8" fill="#000" stroke="#000" stroke-width="0.15" textLength="39.93" lengthAdjust="spacing" font-family="'Liberation Sans', Arial, sans-serif">-0.002523</text>
<polyline points="5.5,773.8 21.5,775.6 37.5,776.3 53.5,769.6 69.5,771.6 85.5,771.6 101.5,766.9 117.5,769.6 133.5,768.1 149.5,764.4 165.5,758.2 181.5,754 197.5,752 213.5,753.2 229.5,761.9 245.5,768.1 261.5,781.8 277.5,781.8 293.5,780 309.5,779.5 325.5,766.9 341.5,761.9 357.5,761.9 373.5,765.6 389.5,763.9 405.5,763.7 421.5,763.7 437.5,765.6 453.5,773.8 469.5,771.8 485.5,770.6 501.5,774.3 517.5,776.8 533.5,786.2 549.5,769.4 565.5,774.3 581.5,775.6 597.5,775.6 613.5,777.6 629.5,775.6 645.5,784.8 661.5,784.8 677.5,784.8 693.5,780 709.5,780 725.5,783.8 741.5,776 757.5,773.1 773.5,772.3 789.5,767.4 805.5,765.6 821.5,764.9 837.5,763.2 853.5,761.2 869.5,758.2 885.5,755.2 901.5,764.9 917.5,761.4 933.5,778.8 949.5,778.8 965.5,776.3 981.5,771.8 997.5,774.8 1013.5,778.8 1029.5,775.1 1045.5,775.1 1061.5,776.8 1077.5,771.1 1093.5,769.6 1109.5,773.1 1125.5,776.8 1141.5,782.5 1157.5,783.5 1173.5,783.5 1189.5,788 1205.5,791.2 1221.5,792.9 1237.5,789.5 1253.5,788.5 1269.5,784.5 1285.5,787.2 1301.5,790.5 1317.5,784.3 1333.5,778.8 1349.5,777.6 1365.5,781 1381.5,791.7 1397.5,791.7 1413.5,795 1429.5,795 1445.5,793.7" fill="none" stroke="#1e90ff" stroke-width="2" shape-rendering="crispEdges" clip-path="url(#cr)"/>
<g shape-rendering="crispEdges">
<line x1="6" y1="742.5" x2="1644" y2="742.5" stroke="#000" stroke-width="1" stroke-dasharray="3,3"/>
<line x1="6" y1="775.5" x2="1644" y2="775.5" stroke="#000" stroke-width="1" stroke-dasharray="3,3"/>
<line x1="6" y1="814.5" x2="1644" y2="814.5" stroke="#000" stroke-width="1" stroke-dasharray="3,3"/>
</g>
<text x="9.5" y="731.5" font-size="9.8" fill="#000" stroke="#000" stroke-width="0.15" textLength="67.69" lengthAdjust="spacing" font-family="'Liberation Sans', Arial, sans-serif">RSI(14) 32.6622</text>
<text x="1648" y="728.9" font-size="9.8" fill="#000" stroke="#000" stroke-width="0.15" font-family="'Liberation Sans', Arial, sans-serif">100</text>
<text x="1648" y="745.9" font-size="9.8" fill="#000" stroke="#000" stroke-width="0.15" font-family="'Liberation Sans', Arial, sans-serif">80</text>
<text x="1648" y="779.0" font-size="9.8" fill="#000" stroke="#000" stroke-width="0.15" font-family="'Liberation Sans', Arial, sans-serif">50</text>
<text x="1648" y="817.5" font-size="9.8" fill="#000" stroke="#000" stroke-width="0.15" font-family="'Liberation Sans', Arial, sans-serif">15</text>
<text x="1648" y="827.5" font-size="9.8" fill="#000" stroke="#000" stroke-width="0.15" font-family="'Liberation Sans', Arial, sans-serif">0</text>
<g shape-rendering="crispEdges">
<rect x="5" y="832" width="1" height="3" fill="#000"/>
<rect x="69" y="832" width="1" height="3" fill="#000"/>
<rect x="133" y="832" width="1" height="3" fill="#000"/>
<rect x="197" y="832" width="1" height="3" fill="#000"/>
<rect x="261" y="832" width="1" height="3" fill="#000"/>
<rect x="325" y="832" width="1" height="3" fill="#000"/>
<rect x="389" y="832" width="1" height="3" fill="#000"/>
<rect x="453" y="832" width="1" height="3" fill="#000"/>
<rect x="517" y="832" width="1" height="3" fill="#000"/>
<rect x="581" y="832" width="1" height="3" fill="#000"/>
<rect x="645" y="832" width="1" height="3" fill="#000"/>
<rect x="709" y="832" width="1" height="3" fill="#000"/>
<rect x="773" y="832" width="1" height="3" fill="#000"/>
<rect x="837" y="832" width="1" height="3" fill="#000"/>
<rect x="901" y="832" width="1" height="3" fill="#000"/>
<rect x="965" y="832" width="1" height="3" fill="#000"/>
<rect x="1029" y="832" width="1" height="3" fill="#000"/>
<rect x="1093" y="832" width="1" height="3" fill="#000"/>
<rect x="1157" y="832" width="1" height="3" fill="#000"/>
<rect x="1221" y="832" width="1" height="3" fill="#000"/>
<rect x="1285" y="832" width="1" height="3" fill="#000"/>
<rect x="1349" y="832" width="1" height="3" fill="#000"/>
<rect x="1413" y="832" width="1" height="3" fill="#000"/>
</g>
<text x="4.5" y="843.7" font-size="9.8" fill="#000" stroke="#000" stroke-width="0.15" textLength="50.73" lengthAdjust="spacing" font-family="'Liberation Sans', Arial, sans-serif">20 Apr 2023</text>
<text x="68.5" y="843.7" font-size="9.8" fill="#000" stroke="#000" stroke-width="0.15" textLength="53.34" lengthAdjust="spacing" font-family="'Liberation Sans', Arial, sans-serif">21 Apr 12:00</text>
<text x="132.5" y="843.7" font-size="9.8" fill="#000" stroke="#000" stroke-width="0.15" textLength="53.34" lengthAdjust="spacing" font-family="'Liberation Sans', Arial, sans-serif">24 Apr 04:00</text>
<text x="196.5" y="843.7" font-size="9.8" fill="#000" stroke="#000" stroke-width="0.15" textLength="53.34" lengthAdjust="spacing" font-family="'Liberation Sans', Arial, sans-serif">24 Apr 20:00</text>
<text x="260.5" y="843.7" font-size="9.8" fill="#000" stroke="#000" stroke-width="0.15" textLength="53.34" lengthAdjust="spacing" font-family="'Liberation Sans', Arial, sans-serif">25 Apr 12:00</text>
<text x="324.5" y="843.7" font-size="9.8" fill="#000" stroke="#000" stroke-width="0.15" textLength="53.34" lengthAdjust="spacing" font-family="'Liberation Sans', Arial, sans-serif">26 Apr 04:00</text>
<text x="388.5" y="843.7" font-size="9.8" fill="#000" stroke="#000" stroke-width="0.15" textLength="53.34" lengthAdjust="spacing" font-family="'Liberation Sans', Arial, sans-serif">26 Apr 20:00</text>
<text x="452.5" y="843.7" font-size="9.8" fill="#000" stroke="#000" stroke-width="0.15" textLength="53.34" lengthAdjust="spacing" font-family="'Liberation Sans', Arial, sans-serif">27 Apr 12:00</text>
<text x="516.5" y="843.7" font-size="9.8" fill="#000" stroke="#000" stroke-width="0.15" textLength="53.34" lengthAdjust="spacing" font-family="'Liberation Sans', Arial, sans-serif">28 Apr 04:00</text>
<text x="580.5" y="843.7" font-size="9.8" fill="#000" stroke="#000" stroke-width="0.15" textLength="53.34" lengthAdjust="spacing" font-family="'Liberation Sans', Arial, sans-serif">30 Apr 23:00</text>
<text x="644.5" y="843.7" font-size="9.8" fill="#000" stroke="#000" stroke-width="0.15" textLength="51.76" lengthAdjust="spacing" font-family="'Liberation Sans', Arial, sans-serif">1 May 12:00</text>
<text x="708.5" y="843.7" font-size="9.8" fill="#000" stroke="#000" stroke-width="0.15" textLength="51.76" lengthAdjust="spacing" font-family="'Liberation Sans', Arial, sans-serif">2 May 04:00</text>
<text x="772.5" y="843.7" font-size="9.8" fill="#000" stroke="#000" stroke-width="0.15" textLength="51.76" lengthAdjust="spacing" font-family="'Liberation Sans', Arial, sans-serif">2 May 20:00</text>
<text x="836.5" y="843.7" font-size="9.8" fill="#000" stroke="#000" stroke-width="0.15" textLength="51.76" lengthAdjust="spacing" font-family="'Liberation Sans', Arial, sans-serif">3 May 12:00</text>
<text x="900.5" y="843.7" font-size="9.8" fill="#000" stroke="#000" stroke-width="0.15" textLength="51.76" lengthAdjust="spacing" font-family="'Liberation Sans', Arial, sans-serif">4 May 04:00</text>
<text x="964.5" y="843.7" font-size="9.8" fill="#000" stroke="#000" stroke-width="0.15" textLength="51.76" lengthAdjust="spacing" font-family="'Liberation Sans', Arial, sans-serif">4 May 20:00</text>
<text x="1028.5" y="843.7" font-size="9.8" fill="#000" stroke="#000" stroke-width="0.15" textLength="51.76" lengthAdjust="spacing" font-family="'Liberation Sans', Arial, sans-serif">5 May 12:00</text>
<text x="1092.5" y="843.7" font-size="9.8" fill="#000" stroke="#000" stroke-width="0.15" textLength="51.76" lengthAdjust="spacing" font-family="'Liberation Sans', Arial, sans-serif">8 May 04:00</text>
<text x="1156.5" y="843.7" font-size="9.8" fill="#000" stroke="#000" stroke-width="0.15" textLength="51.76" lengthAdjust="spacing" font-family="'Liberation Sans', Arial, sans-serif">8 May 20:00</text>
<text x="1220.5" y="843.7" font-size="9.8" fill="#000" stroke="#000" stroke-width="0.15" textLength="51.76" lengthAdjust="spacing" font-family="'Liberation Sans', Arial, sans-serif">9 May 12:00</text>
<text x="1284.5" y="843.7" font-size="9.8" fill="#000" stroke="#000" stroke-width="0.15" textLength="56.99" lengthAdjust="spacing" font-family="'Liberation Sans', Arial, sans-serif">10 May 04:00</text>
<text x="1348.5" y="843.7" font-size="9.8" fill="#000" stroke="#000" stroke-width="0.15" textLength="56.99" lengthAdjust="spacing" font-family="'Liberation Sans', Arial, sans-serif">10 May 20:00</text>
<text x="1412.5" y="843.7" font-size="9.8" fill="#000" stroke="#000" stroke-width="0.15" textLength="56.29" lengthAdjust="spacing" font-family="'Liberation Sans', Arial, sans-serif">11 May 12:00</text>
<g id="toolbar">
<rect x="5" y="0" width="1" height="20" fill="#a0a0a0"/>
<path d="M15.5 2.5 H23 L26.5 6 V15.5 H15.5 Z" fill="#fff" stroke="#6e6e6e" stroke-width="1"/>
<path d="M23 2.5 V6 H26.5" fill="#6e6e6e" stroke="#6e6e6e" stroke-width="1"/>
<g fill="#7a7a7a"><rect x="17" y="4" width="2.5" height="1.2"/><rect x="17" y="8" width="8" height="1"/><rect x="17" y="10" width="5" height="1"/><rect x="17" y="12" width="3" height="1"/></g>
<path d="M23 8.5 H27 V12 H30.5 V16 H27 V19.5 H23 V16 H19.5 V12 H23 Z" fill="#22ee44" stroke="#0a8a1a" stroke-width="1"/>
<text x="34" y="13.6" font-size="12" fill="#000" stroke="#000" stroke-width="0.12" font-family="'Liberation Sans', 'Noto Sans CJK SC', sans-serif">新订单</text>
<defs><linearGradient id="gb" x1="0" y1="0" x2="1" y2="1"><stop offset="0" stop-color="#fff4a0"/><stop offset="0.5" stop-color="#eec020"/><stop offset="1" stop-color="#d89a10"/></linearGradient></defs>
<path d="M87.8 3.2 L96.8 9.8 L97.8 12.6 L89.8 17.6 L82.2 11.5 L86.4 7.2 Z" fill="url(#gb)" stroke="#9a6410" stroke-width="1"/>
<path d="M83.2 11 L90 15.6" fill="none" stroke="#f8e8a8" stroke-width="1.3"/>
<path d="M90.5 15.2 L96.8 11 M91 16.6 L97.2 12.4" fill="none" stroke="#f4efd0" stroke-width="0.8"/>
<rect x="112.5" y="2.5" width="10" height="8" fill="#129cf0" stroke="#0a6ad0" stroke-width="1"/>
<rect x="116" y="5.5" width="5" height="1.2" fill="#e0f4ff"/>
<path d="M113 3 L115.3 5.3 V10.5 M115.3 5.3 H122" fill="none" stroke="#d8f0ff" stroke-width="0.9"/>
<path d="M111 17 C109 17 109 13 112 13 C112 10.5 116 10 117 11.5 C118.5 9.5 122 10 122 12.5 C125.5 12 126 17 123.5 17 Z" fill="#eef0f8" stroke="#3a5a9a" stroke-width="1"/>
<circle cx="145.8" cy="9.9" r="7.2" fill="none" stroke="#7aa0e0" stroke-width="1"/>
<circle cx="145.8" cy="9.9" r="4.6" fill="none" stroke="#9ab8e8" stroke-width="1"/>
<path d="M145.8 2.7 A7.2 7.2 0 0 1 146.4 17.1" fill="none" stroke="#4a9a5a" stroke-width="1"/>
<circle cx="145.8" cy="9.7" r="2" fill="#2a5ad0"/>
<rect x="146" y="10" width="1.2" height="7.6" fill="#20a020"/>
<path d="M166 13 L169 9 L180 9 L177 17.5 L173 17.5 Z" fill="#f6d84a" stroke="#c89a10" stroke-width="1"/>
<ellipse cx="173" cy="7" rx="8" ry="2.6" fill="#7cc4f0" stroke="#1a80b0" stroke-width="1"/>
<ellipse cx="172.5" cy="5" rx="3.5" ry="2.8" fill="#8ccff5" stroke="#1a80b0" stroke-width="1"/>
<circle cx="177.5" cy="13.9" r="4" fill="#e02010" stroke="#b01000" stroke-width="0.8"/>
<rect x="176" y="12.3" width="3" height="3" fill="#fff"/>
<text x="185.5" y="13.6" font-size="12" fill="#000" stroke="#000" stroke-width="0.12" font-family="'Liberation Sans', 'Noto Sans CJK SC', sans-serif">自动交易</text>
<rect x="241" y="0" width="1" height="22" fill="#a0a0a0"/>
<rect x="245" y="0" width="3" height="1" fill="#a8a8a8"/>
<rect x="245" y="2" width="3" height="1" fill="#a8a8a8"/>
<rect x="245" y="4" width="3" height="1" fill="#a8a8a8"/>
<rect x="245" y="6" width="3" height="1" fill="#a8a8a8"/>
<rect x="245" y="8" width="3" height="1" fill="#a8a8a8"/>
<rect x="245" y="10" width="3" height="1" fill="#a8a8a8"/>
<rect x="245" y="12" width="3" height="1" fill="#a8a8a8"/>
<rect x="245" y="14" width="3" height="1" fill="#a8a8a8"/>
<rect x="245" y="16" width="3" height="1" fill="#a8a8a8"/>
<rect x="245" y="18" width="3" height="1" fill="#a8a8a8"/>
<g fill="#5a5a5a" shape-rendering="crispEdges"><rect x="259" y="4" width="1" height="14"/><rect x="257" y="15" width="14" height="1"/><rect x="258" y="5" width="3" height="1"/><rect x="257" y="6" width="1" height="1"/><rect x="261" y="6" width="1" height="1"/><rect x="269" y="14" width="1" height="3"/><rect x="268" y="13" width="1" height="1"/><rect x="268" y="17" width="1" height="1"/></g>
<path d="M265.5 5 V14 M265.5 6.3 H268 M263 12.4 H265.5" fill="none" stroke="#109010" stroke-width="1.3"/>
<rect x="279" y="0" width="25" height="20" fill="#f8f8f8"/>
<rect x="279" y="0" width="1" height="20" fill="#a0a0a0"/>
<rect x="279" y="20" width="26" height="1" fill="#ffffff"/>
<rect x="304" y="0" width="1" height="21" fill="#ffffff"/>
<g fill="#5a5a5a" shape-rendering="crispEdges"><rect x="287" y="4" width="1" height="14"/><rect x="285" y="15" width="14" height="1"/><rect x="286" y="5" width="3" height="1"/><rect x="285" y="6" width="1" height="1"/><rect x="289" y="6" width="1" height="1"/><rect x="297" y="14" width="1" height="3"/><rect x="296" y="13" width="1" height="1"/><rect x="296" y="17" width="1" height="1"/></g>
<rect x="293.2" y="2" width="1.2" height="12" fill="#108010"/>
<rect x="291.5" y="4.5" width="4.5" height="7.5" fill="#50f070" stroke="#108010" stroke-width="1"/>
<g fill="#5a5a5a" shape-rendering="crispEdges"><rect x="315" y="4" width="1" height="14"/><rect x="313" y="15" width="14" height="1"/><rect x="314" y="5" width="3" height="1"/><rect x="313" y="6" width="1" height="1"/><rect x="317" y="6" width="1" height="1"/><rect x="325" y="14" width="1" height="3"/><rect x="324" y="13" width="1" height="1"/><rect x="324" y="17" width="1" height="1"/></g>
<path d="M314 12.6 Q317.5 6.2 320.3 6.9 Q322.5 7.6 326 11" fill="none" stroke="#2a9a2a" stroke-width="1.2"/>
<rect x="336" y="0" width="1" height="20" fill="#a0a0a0"/>
<path d="M354.40000000000003 11.6 L359.90000000000003 17" stroke="#9a7a10" stroke-width="3.4"/>
<path d="M354.40000000000003 11.6 L359.90000000000003 17" stroke="#f0d860" stroke-width="1.8"/>
<circle cx="351.1" cy="8" r="5.6" fill="#d8f0fc" stroke="#3a7ad0" stroke-width="1"/>
<rect x="347.90000000000003" y="7" width="6.4" height="2" fill="#3a80b0"/>
<rect x="350.1" y="4.8" width="2" height="6.4" fill="#3a80b0"/>
<path d="M382.40000000000003 11.6 L387.90000000000003 17" stroke="#9a7a10" stroke-width="3.4"/>
<path d="M382.40000000000003 11.6 L387.90000000000003 17" stroke="#f0d860" stroke-width="1.8"/>
<circle cx="379.1" cy="8" r="5.6" fill="#d8f0fc" stroke="#3a7ad0" stroke-width="1"/>
<rect x="375.90000000000003" y="7" width="6.4" height="2" fill="#3a80b0"/>
<rect x="401" y="2" width="7.8" height="7.6" fill="#2a9a1a"/>
<rect x="402" y="5" width="5.8" height="3.2" fill="#fff"/>
<rect x="403" y="6.2" width="3.8" height="0.9" fill="#2a9a1a" opacity="0.45"/>
<rect x="401.8" y="2.8" width="1" height="1" fill="#fff" opacity="0.8"/>
<rect x="409.2" y="2" width="7.8" height="7.6" fill="#1a50d0"/>
<rect x="410.2" y="5" width="5.8" height="3.2" fill="#fff"/>
<rect x="411.2" y="6.2" width="3.8" height="0.9" fill="#1a50d0" opacity="0.45"/>
<rect x="410.0" y="2.8" width="1" height="1" fill="#fff" opacity="0.8"/>
<rect x="401" y="10.2" width="7.8" height="7.6" fill="#1a50d0"/>
<rect x="402" y="13.2" width="5.8" height="3.2" fill="#fff"/>
<rect x="403" y="14.399999999999999" width="3.8" height="0.9" fill="#1a50d0" opacity="0.45"/>
<rect x="401.8" y="11.0" width="1" height="1" fill="#fff" opacity="0.8"/>
<rect x="409.2" y="10.2" width="7.8" height="7.6" fill="#2a9a1a"/>
<rect x="410.2" y="13.2" width="5.8" height="3.2" fill="#fff"/>
<rect x="411.2" y="14.399999999999999" width="3.8" height="0.9" fill="#2a9a1a" opacity="0.45"/>
<rect x="410.0" y="11.0" width="1" height="1" fill="#fff" opacity="0.8"/>
<rect x="426" y="0" width="1" height="20" fill="#a0a0a0"/>
<rect x="431" y="0" width="25" height="20" fill="#f8f8f8"/>
<rect x="431" y="0" width="1" height="20" fill="#a0a0a0"/>
<rect x="431" y="20" width="26" height="1" fill="#ffffff"/>
<rect x="456" y="0" width="1" height="21" fill="#ffffff"/>
<g fill="#5a5a5a" shape-rendering="crispEdges"><rect x="439" y="4" width="1" height="14"/><rect x="437" y="15" width="14" height="1"/><rect x="438" y="5" width="3" height="1"/><rect x="437" y="6" width="1" height="1"/><rect x="441" y="6" width="1" height="1"/><rect x="449" y="14" width="1" height="3"/><rect x="448" y="13" width="1" height="1"/><rect x="448" y="17" width="1" height="1"/></g>
<path d="M444.3 6 L447.8 9.5 L444.3 12.8 Z" fill="#a0f0a0" stroke="#18a018" stroke-width="1.1"/>
<rect x="459" y="0" width="25" height="20" fill="#f8f8f8"/>
<rect x="459" y="0" width="1" height="20" fill="#a0a0a0"/>
<rect x="459" y="20" width="26" height="1" fill="#ffffff"/>
<rect x="484" y="0" width="1" height="21" fill="#ffffff"/>
<g fill="#5a5a5a" shape-rendering="crispEdges"><rect x="467" y="4" width="1" height="14"/><rect x="465" y="15" width="14" height="1"/><rect x="466" y="5" width="3" height="1"/><rect x="465" y="6" width="1" height="1"/><rect x="469" y="6" width="1" height="1"/><rect x="477" y="14" width="1" height="3"/><rect x="476" y="13" width="1" height="1"/><rect x="476" y="17" width="1" height="1"/></g>
<rect x="472.8" y="4" width="1.2" height="10" fill="#2070b0"/>
<path d="M474.5 9.5 L477 7.5 L477 9 L479 9 L479 10 L477 10 L477 11.5 Z" fill="#e05010"/>
<rect x="488" y="0" width="1" height="20" fill="#a0a0a0"/>
<path d="M498.5 2.5 H507 L509.5 5 V15.5 H498.5 Z" fill="#fff" stroke="#6e6e6e" stroke-width="1"/>
<text x="500.5" y="12" font-size="8" font-style="italic" fill="#444" font-family="'Liberation Sans', Arial, sans-serif">f</text>
<path d="M506 8.5 H510 V12 H513.5 V16 H510 V19.5 H506 V16 H502.5 V12 H506 Z" fill="#22ee44" stroke="#0a8a1a" stroke-width="1"/>
<path d="M519.5 9 h6 l-3 3 z" fill="#000"/>
<circle cx="544" cy="9.8" r="6.8" fill="#fff" stroke="#1a62c8" stroke-width="2.8"/>
<circle cx="544" cy="9.8" r="5.2" fill="none" stroke="#6ab4f4" stroke-width="0.8"/>
<path d="M543 5 V10 H546" fill="none" stroke="#000" stroke-width="1.2"/>
<path d="M558.5 9 h6 l-3 3 z" fill="#000"/>
<rect x="575.5" y="3.5" width="15" height="13.5" fill="#fff" stroke="#3a78c0" stroke-width="1"/>
<rect x="576" y="4" width="14" height="2" fill="#5a9ae0"/>
<rect x="576" y="11" width="14" height="1" fill="#3a78c0"/>
<path d="M577 9.3 L579 9.3 L581 8 L583 8.5 L585 7.5 L588.5 7.3" fill="none" stroke="#b01010" stroke-width="1"/>
<path d="M577.5 14.5 L580 13.5 L582 14.3 L584 12.5 L586 14.5 L588.5 14" fill="none" stroke="#10a010" stroke-width="1"/>
<path d="M597.5 9 h6 l-3 3 z" fill="#000"/>
<rect x="609" y="0" width="1" height="22" fill="#a0a0a0"/>
<rect x="613" y="0" width="3" height="1" fill="#a8a8a8"/>
<rect x="613" y="2" width="3" height="1" fill="#a8a8a8"/>
<rect x="613" y="4" width="3" height="1" fill="#a8a8a8"/>
<rect x="613" y="6" width="3" height="1" fill="#a8a8a8"/>
<rect x="613" y="8" width="3" height="1" fill="#a8a8a8"/>
<rect x="613" y="10" width="3" height="1" fill="#a8a8a8"/>
<rect x="613" y="12" width="3" height="1" fill="#a8a8a8"/>
<rect x="613" y="14" width="3" height="1" fill="#a8a8a8"/>
<rect x="613" y="16" width="3" height="1" fill="#a8a8a8"/>
<rect x="613" y="18" width="3" height="1" fill="#a8a8a8"/>
<rect x="619" y="0" width="25" height="20" fill="#f8f8f8"/>
<rect x="619" y="0" width="1" height="20" fill="#a0a0a0"/>
<rect x="619" y="20" width="26" height="1" fill="#ffffff"/>
<rect x="644" y="0" width="1" height="21" fill="#ffffff"/>
<path d="M627 3 L635 10.6 L631.8 10.9 L633.6 16.4 L632 17 L630.2 11.8 L627 14 Z" fill="#4a4a4a"/>
<path d="M659.5 3 V9.5 M659.5 11.5 V17.7 M652 10.5 H658.5 M660.5 10.5 H667" stroke="#555555" stroke-width="1"/>
<rect x="676" y="0" width="1" height="20" fill="#a0a0a0"/>
<rect x="693" y="4" width="1.2" height="13" fill="#555555"/>
<rect x="716" y="10" width="12" height="1.2" fill="#555555"/>
<path d="M744 16.8 L756.2 4.8" stroke="#555555" stroke-width="1.1"/>
<path d="M770 11.3 L777.6 3.9 M770.5 16.3 L784 8.2 M772 14 L773 9 M775.5 12 L776.5 7 M779 10.5 L781 3" stroke="#555555" stroke-width="1.1" fill="none"/>
<text x="780.5" y="18.8" font-size="6.5" font-weight="bold" fill="#555555" font-family="'Liberation Sans', Arial, sans-serif">E</text>
<line x1="799" y1="3.5" x2="812.5" y2="3.5" stroke="#555555" stroke-width="1" stroke-dasharray="1,1"/>
<line x1="799" y1="6.5" x2="812.5" y2="6.5" stroke="#555555" stroke-width="1" stroke-dasharray="1,1"/>
<line x1="799" y1="10.5" x2="812.5" y2="10.5" stroke="#555555" stroke-width="1" stroke-dasharray="1,1"/>
<line x1="799" y1="14.5" x2="808" y2="14.5" stroke="#555555" stroke-width="1" stroke-dasharray="1,1"/>
<text x="808.5" y="18.8" font-size="6.5" font-weight="bold" fill="#555555" font-family="'Liberation Sans', Arial, sans-serif">F</text>
<text x="829.8" y="15" font-size="11.5" font-weight="bold" fill="#555555" font-family="'Liberation Sans', Arial, sans-serif">A</text>
<rect x="856" y="4.2" width="11.5" height="12.6" fill="none" stroke="#555555" stroke-width="1" stroke-dasharray="1,1"/>
<text x="859.2" y="15" font-size="11" font-weight="bold" fill="#555555" font-family="'Liberation Sans', Arial, sans-serif">T</text>
<path d="M883 7 L886.5 4 L890 7 L887.5 8.5 L885 8.5 Z M890.5 14.5 L894 12.5 L897 14.5 L894 17 Z" fill="#555555"/>
<path d="M885 9.5 L887.5 12.5 L891.5 8.5" stroke="#555555" stroke-width="1.3" fill="none"/>
<path d="M903.5 9 h6 l-3 3 z" fill="#000"/>
<rect x="915" y="0" width="1" height="22" fill="#a0a0a0"/>
<rect x="919" y="0" width="3" height="1" fill="#a8a8a8"/>
<rect x="919" y="2" width="3" height="1" fill="#a8a8a8"/>
<rect x="919" y="4" width="3" height="1" fill="#a8a8a8"/>
<rect x="919" y="6" width="3" height="1" fill="#a8a8a8"/>
<rect x="919" y="8" width="3" height="1" fill="#a8a8a8"/>
<rect x="919" y="10" width="3" height="1" fill="#a8a8a8"/>
<rect x="919" y="12" width="3" height="1" fill="#a8a8a8"/>
<rect x="919" y="14" width="3" height="1" fill="#a8a8a8"/>
<rect x="919" y="16" width="3" height="1" fill="#a8a8a8"/>
<rect x="919" y="18" width="3" height="1" fill="#a8a8a8"/>
<rect x="1065" y="0" width="25" height="20" fill="#f8f8f8"/>
<rect x="1065" y="0" width="1" height="20" fill="#a0a0a0"/>
<rect x="1065" y="20" width="26" height="1" fill="#ffffff"/>
<rect x="1090" y="0" width="1" height="21" fill="#ffffff"/>
<text x="930.6" y="14" font-size="10" fill="#404040" font-family="'Liberation Sans', Arial, sans-serif">M1</text>
<text x="958.7" y="14" font-size="10" fill="#404040" font-family="'Liberation Sans', Arial, sans-serif">M5</text>
<text x="984.7" y="14" font-size="10" fill="#404040" font-family="'Liberation Sans', Arial, sans-serif">M15</text>
<text x="1012.4" y="14" font-size="10" fill="#404040" font-family="'Liberation Sans', Arial, sans-serif">M30</text>
<text x="1043.7" y="14" font-size="10" fill="#404040" font-family="'Liberation Sans', Arial, sans-serif">H1</text>
<text x="1070.7" y="14" font-size="10" fill="#404040" font-family="'Liberation Sans', Arial, sans-serif">H4</text>
<text x="1099.9" y="14" font-size="10" fill="#404040" font-family="'Liberation Sans', Arial, sans-serif">D1</text>
<text x="1127" y="14" font-size="10" fill="#404040" font-family="'Liberation Sans', Arial, sans-serif">W1</text>
<text x="1153.7" y="14" font-size="10" fill="#404040" font-family="'Liberation Sans', Arial, sans-serif">MN</text>
<rect x="1176" y="0" width="1" height="20" fill="#a0a0a0"/>
<path d="M1643.8 11.1 L1639.5 15" stroke="#1a4ad0" stroke-width="2.8" stroke-linecap="round"/>
<circle cx="1646.6" cy="7.4" r="3.8" fill="#f4f6ff" stroke="#2058d8" stroke-width="1.5"/>
<path d="M1668.5 7.5 C1662 7.5 1662 16.5 1667 16.5 L1666.5 18.5 L1669 16.5 L1672 16.5 C1676 16.5 1676 7.5 1668.5 7.5 Z" fill="#e6e6ee" stroke="#a8a8a8" stroke-width="1"/>
<circle cx="1677.4" cy="7.4" r="8.3" fill="#e03a20"/>
<text x="1673.6" y="12" font-size="12.5" font-weight="bold" fill="#fff" font-family="'Liberation Serif', serif">1</text>
</g>
</svg></body></html>
